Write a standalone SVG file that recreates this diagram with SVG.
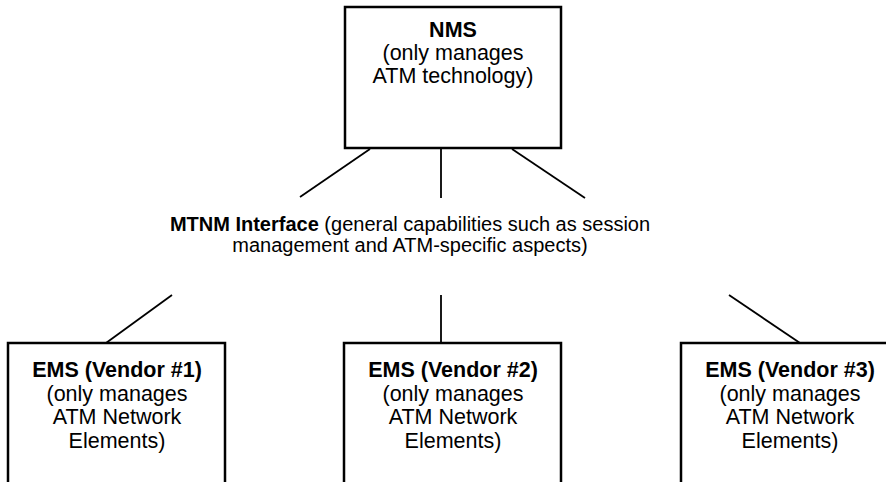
<svg xmlns="http://www.w3.org/2000/svg" width="886" height="482" viewBox="0 0 886 482">
<style>
.box{fill:#fff;stroke:#000;stroke-width:2.5}
.conn line{stroke:#000;stroke-width:1.8}
text{font-family:"Liberation Sans",Arial,sans-serif;fill:#000;text-anchor:middle}
.t{font-size:21.5px}
.m{font-size:20px}
.b{font-weight:bold}
</style>
<rect width="886" height="482" fill="#fff"/>
<g id="connectors" class="conn">
<line x1="370" y1="149" x2="300" y2="197"/>
<line x1="441" y1="149" x2="441" y2="198"/>
<line x1="512" y1="149" x2="585" y2="198"/>
<line x1="172" y1="295" x2="106" y2="343"/>
<line x1="441" y1="295" x2="441" y2="343"/>
<line x1="729" y1="295" x2="800" y2="343"/>
</g>
<g id="nms">
<rect class="box" x="345" y="7" width="216" height="141"/>
<text class="t b" x="453" y="37">NMS</text>
<text class="t" x="453" y="60">(only manages</text>
<text class="t" x="453" y="83">ATM technology)</text>
</g>
<g id="mtnm">
<text class="m" x="410" y="231"><tspan class="b">MTNM Interface</tspan> (general capabilities such as session</text>
<text class="m" x="410" y="252">management and ATM-specific aspects)</text>
</g>
<g id="ems1">
<rect class="box" x="8" y="343" width="217" height="150"/>
<text class="t b" x="117" y="377">EMS (Vendor #1)</text>
<text class="t" x="117" y="400.5">(only manages</text>
<text class="t" x="117" y="424">ATM Network</text>
<text class="t" x="117" y="447.5">Elements)</text>
</g>
<g id="ems2">
<rect class="box" x="344" y="343" width="217" height="150"/>
<text class="t b" x="453" y="377">EMS (Vendor #2)</text>
<text class="t" x="453" y="400.5">(only manages</text>
<text class="t" x="453" y="424">ATM Network</text>
<text class="t" x="453" y="447.5">Elements)</text>
</g>
<g id="ems3">
<rect class="box" x="681" y="343" width="217" height="150"/>
<text class="t b" x="790" y="377">EMS (Vendor #3)</text>
<text class="t" x="790" y="400.5">(only manages</text>
<text class="t" x="790" y="424">ATM Network</text>
<text class="t" x="790" y="447.5">Elements)</text>
</g>
</svg>
